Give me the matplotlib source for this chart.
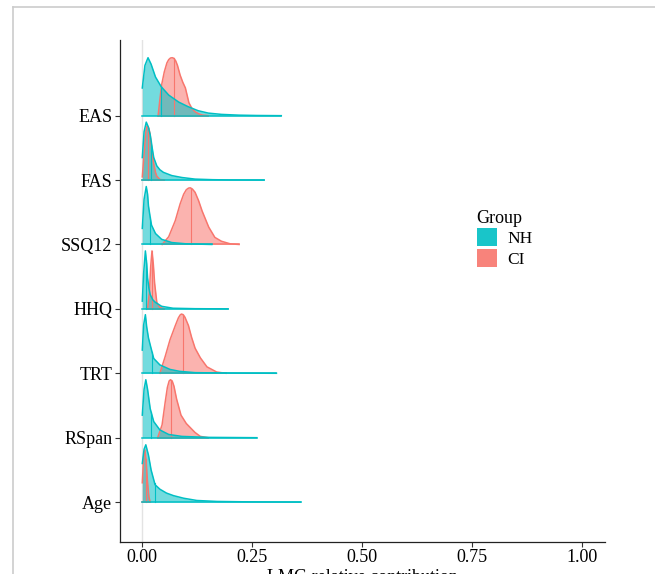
import matplotlib.pyplot as plt
from matplotlib.patches import Patch
from matplotlib.lines import Line2D
import numpy as np

plt.rcParams['font.family'] = ['Liberation Serif', 'DejaVu Serif']

# predictors, top to bottom
variables = ['EAS', 'FAS', 'SSQ12', 'HHQ', 'TRT', 'RSpan', 'Age']
groups = ['NH', 'CI']
colors = {'NH': '#00BFC4', 'CI': '#F8766D'}

# density ridges: x (LMG) and height (in ridge units)
eas_nh_x = [0, 0.006, 0.013, 0.02, 0.03, 0.043, 0.06, 0.083, 0.104, 0.127, 0.15, 0.18, 0.22, 0.26, 0.316]
eas_nh_h = [0.43, 0.78, 0.90, 0.80, 0.60, 0.45, 0.32, 0.21, 0.14, 0.077, 0.04, 0.02, 0.008, 0.003, 0]
eas_ci_x = [0.036, 0.04, 0.044, 0.05, 0.056, 0.06, 0.064, 0.068, 0.072, 0.076, 0.08, 0.086, 0.092, 0.098, 0.106, 0.113, 0.12, 0.128, 0.136, 0.15]
eas_ci_h = [0, 0.25, 0.48, 0.68, 0.82, 0.87, 0.895, 0.90, 0.89, 0.85, 0.78, 0.63, 0.52, 0.43, 0.20, 0.11, 0.06, 0.03, 0.01, 0]

fas_nh_x = [0, 0.004, 0.009, 0.014, 0.018, 0.022, 0.026, 0.033, 0.04, 0.048, 0.067, 0.09, 0.12, 0.16, 0.2, 0.277]
fas_nh_h = [0.35, 0.75, 0.90, 0.82, 0.70, 0.52, 0.35, 0.22, 0.16, 0.12, 0.07, 0.04, 0.015, 0.006, 0.002, 0]
fas_ci_x = [0, 0.004, 0.008, 0.011, 0.015, 0.018, 0.022, 0.026, 0.03, 0.033, 0.04, 0.05]
fas_ci_h = [0.05, 0.4, 0.75, 0.84, 0.80, 0.70, 0.45, 0.25, 0.12, 0.06, 0.01, 0]

ssq_nh_x = [0, 0.004, 0.009, 0.012, 0.014, 0.018, 0.021, 0.03, 0.044, 0.067, 0.1, 0.158]
ssq_nh_h = [0.25, 0.7, 0.90, 0.78, 0.6, 0.42, 0.3, 0.17, 0.08, 0.03, 0.01, 0]
ssq_ci_x = [0.045, 0.06, 0.075, 0.086, 0.094, 0.1, 0.105, 0.109, 0.114, 0.12, 0.128, 0.136, 0.151, 0.165, 0.18, 0.2, 0.22]
ssq_ci_h = [0, 0.12, 0.37, 0.63, 0.78, 0.85, 0.875, 0.88, 0.86, 0.81, 0.68, 0.52, 0.27, 0.11, 0.05, 0.01, 0]

hhq_nh_x = [0, 0.003, 0.007, 0.01, 0.012, 0.015, 0.018, 0.024, 0.03, 0.044, 0.07, 0.12, 0.195]
hhq_nh_h = [0.12, 0.55, 0.90, 0.70, 0.48, 0.32, 0.22, 0.14, 0.10, 0.04, 0.01, 0.003, 0]
hhq_ci_x = [0.012, 0.016, 0.019, 0.022, 0.025, 0.028, 0.033, 0.04, 0.05]
hhq_ci_h = [0, 0.25, 0.65, 0.90, 0.70, 0.40, 0.10, 0.02, 0]

trt_nh_x = [0, 0.003, 0.007, 0.01, 0.014, 0.018, 0.026, 0.04, 0.063, 0.085, 0.12, 0.2, 0.305]
trt_nh_h = [0.36, 0.75, 0.91, 0.72, 0.55, 0.44, 0.23, 0.13, 0.06, 0.03, 0.01, 0.003, 0]
trt_ci_x = [0.04, 0.052, 0.063, 0.075, 0.082, 0.086, 0.089, 0.093, 0.097, 0.105, 0.112, 0.12, 0.132, 0.147, 0.169, 0.19]
trt_ci_h = [0, 0.26, 0.52, 0.74, 0.86, 0.905, 0.92, 0.91, 0.87, 0.74, 0.56, 0.39, 0.24, 0.10, 0.02, 0]

rsp_nh_x = [0, 0.004, 0.008, 0.012, 0.018, 0.026, 0.04, 0.06, 0.09, 0.15, 0.26]
rsp_nh_h = [0.35, 0.75, 0.90, 0.75, 0.45, 0.25, 0.12, 0.05, 0.02, 0.005, 0]
rsp_ci_x = [0.035, 0.045, 0.052, 0.057, 0.061, 0.064, 0.068, 0.072, 0.078, 0.088, 0.1, 0.11, 0.12, 0.132, 0.15]
rsp_ci_h = [0, 0.2, 0.55, 0.78, 0.88, 0.90, 0.88, 0.80, 0.60, 0.35, 0.22, 0.15, 0.08, 0.02, 0]

age_nh_x = [0, 0.004, 0.008, 0.014, 0.02, 0.029, 0.04, 0.055, 0.071, 0.094, 0.124, 0.17, 0.25, 0.36]
age_nh_h = [0.6, 0.82, 0.89, 0.73, 0.5, 0.27, 0.2, 0.14, 0.10, 0.06, 0.025, 0.01, 0.003, 0]
age_ci_x = [0, 0.003, 0.006, 0.009, 0.012, 0.015, 0.018]
age_ci_h = [0.3, 0.7, 0.81, 0.6, 0.3, 0.08, 0]

# medians (quantile lines)
medians_nh = [0.043, 0.020, 0.018, 0.009, 0.022, 0.020, 0.028]
medians_ci = [0.071, 0.013, 0.110, 0.022, 0.092, 0.066, 0.008]

curves_nh = [(eas_nh_x, eas_nh_h), (fas_nh_x, fas_nh_h), (ssq_nh_x, ssq_nh_h), (hhq_nh_x, hhq_nh_h),
             (trt_nh_x, trt_nh_h), (rsp_nh_x, rsp_nh_h), (age_nh_x, age_nh_h)]
curves_ci = [(eas_ci_x, eas_ci_h), (fas_ci_x, fas_ci_h), (ssq_ci_x, ssq_ci_h), (hhq_ci_x, hhq_ci_h),
             (trt_ci_x, trt_ci_h), (rsp_ci_x, rsp_ci_h), (age_ci_x, age_ci_h)]

fig = plt.figure(figsize=(6.55, 5.74), dpi=100)
ax = fig.add_axes([120 / 655, 32.3 / 574, 485 / 655, 501.7 / 574])

ax.axvline(0, color='#E3E3E3', lw=1.0, zorder=0)

n = len(variables)
for i, var in enumerate(variables):
    base = n - i
    for grp, curves, meds in [('CI', curves_ci, medians_ci), ('NH', curves_nh, medians_nh)]:
        xs, hs = curves[i]
        xs = np.array(xs)
        ys = base + np.array(hs)
        c = colors[grp]
        ax.fill_between(xs, base, ys, color=c, alpha=0.55, lw=0, zorder=2)
        ax.plot(xs, ys, color=c, lw=1.1, zorder=3, solid_joinstyle='round')
        ax.plot([xs[0], xs[-1]], [base, base], color=c, lw=1.1, zorder=3)
        m = meds[i]
        ax.plot([m, m], [base, base + np.interp(m, xs, hs)], color=c, lw=0.8, zorder=3)

ax.set_xlim(-0.0507, 1.052)
ax.set_ylim(0.385, 8.175)
ax.set_xticks([0, 0.25, 0.5, 0.75, 1.0])
ax.set_xticklabels(['0.00', '0.25', '0.50', '0.75', '1.00'])
ax.set_yticks(range(n, 0, -1))
ax.set_yticklabels(variables)
ax.tick_params(labelsize=13, length=3.5, width=0.8, color='#333333', labelcolor='black', pad=2)
ax.set_xlabel('LMG relative contribution', fontsize=13, labelpad=2)

for s in ['top', 'right']:
    ax.spines[s].set_visible(False)
for s in ['left', 'bottom']:
    ax.spines[s].set_linewidth(0.9)
    ax.spines[s].set_color('#222222')

handles = [Patch(facecolor=colors[g], alpha=0.9, edgecolor='none', label=g) for g in groups]
leg = fig.legend(handles=handles, title='Group', loc='upper left',
                 bbox_to_anchor=(468 / 655, 1 - 201 / 574), frameon=False,
                 fontsize=12.5, title_fontsize=13, handlelength=1.19, handleheight=1.19,
                 labelspacing=0.1, handletextpad=0.57, borderpad=0, alignment='left')

# screenshot frame
fig.add_artist(Line2D([13 / 655, 13 / 655], [0, 1 - 7 / 574], color='#CCCCCC', lw=1.2))
fig.add_artist(Line2D([13 / 655, 1], [1 - 7 / 574, 1 - 7 / 574], color='#CCCCCC', lw=1.2))

fig.savefig('out.png', dpi=100)
